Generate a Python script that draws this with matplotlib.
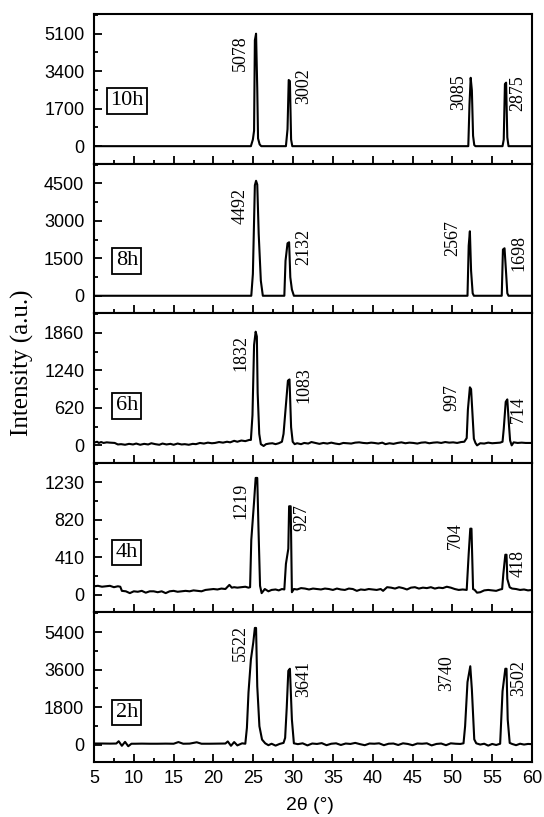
import matplotlib
matplotlib.use("Agg")
import matplotlib.pyplot as plt
from matplotlib.ticker import MultipleLocator

# ---------------- data ----------------
labels = ["10h", "8h", "6h", "4h", "2h"]
top_ticks = [5100, 4500, 1860, 1230, 5400]

# 10h
x_10h = [5, 24.7, 24.95, 25.1, 25.2, 25.35, 25.5, 25.6, 25.8, 26.0,
         29.1, 29.3, 29.45, 29.6, 29.75, 29.9,
         52.0, 52.15, 52.3, 52.45, 52.6, 52.75, 52.9,
         56.3, 56.45, 56.6, 56.75, 56.9, 57.05, 60]
y_10h = [0, 0, 300, 700, 4800, 5100, 2600, 350, 80, 0,
         0, 770, 3000, 2950, 300, 0,
         0, 1880, 3100, 2530, 470, 50, 0,
         0, 300, 2820, 2880, 400, 0, 0]

# 8h
x_8h = [5, 24.75, 24.95, 25.2, 25.35, 25.5, 25.68, 25.95, 26.2,
        28.9, 29.05, 29.3, 29.5, 29.65, 29.85, 30.1,
        51.9, 52.05, 52.2, 52.35, 52.55, 52.7,
        56.2, 56.35, 56.55, 56.75, 56.9, 57.05, 60]
y_8h = [0, 0, 870, 4420, 4600, 4450, 2480, 600, 0,
        0, 1400, 2100, 2140, 740, 250, 0,
        0, 2000, 2580, 1000, 100, 0,
        0, 1850, 1900, 900, 100, 0, 0]

# 6h
x_6h = [5.0, 5.4, 5.6, 5.9, 6.2, 6.6, 7.0, 7.6, 8.0, 8.4, 8.9, 9.4, 9.9, 10.3,
        10.8, 11.3, 11.8, 12.2, 12.7, 13.2, 13.6, 14.1, 14.6, 15.0, 15.5, 16.0,
        16.4, 16.9, 17.4, 17.8, 18.3, 18.8, 19.3, 19.8, 20.2, 20.7, 21.2, 21.7,
        22.1, 22.6, 23.0, 23.5, 24.0, 24.5,
        24.7, 24.9, 25.1, 25.3, 25.45, 25.55, 25.75, 25.95,
        26.3, 26.6, 27.0, 27.4, 27.8, 28.2, 28.6,
        28.8, 29.1, 29.35, 29.55, 29.75, 29.95, 30.2,
        30.5, 31.0, 31.4, 31.9, 32.3, 32.8, 33.3, 33.8, 34.3, 34.8, 35.3, 35.8,
        36.3, 36.8, 37.3, 37.8, 38.3, 38.8, 39.3, 39.8, 40.2, 40.7, 41.2, 41.6,
        42.1, 42.6, 43.1, 43.6, 44.1, 44.6, 45.1, 45.6, 46.1, 46.6, 47.1, 47.6,
        48.1, 48.6, 49.1, 49.6, 50.1, 50.6, 51.1, 51.5,
        51.8, 51.95, 52.2, 52.35, 52.5, 52.7, 52.9, 53.1,
        53.5, 54.0, 54.5, 55.0, 55.5, 56.0, 56.3,
        56.45, 56.7, 56.9, 57.1, 57.25, 57.45, 57.7, 58.2, 58.7, 59.2, 60]
y_6h = [45, 60, 40, 55, 40, 50, 45, 40, 15, 20, 10, 25, 15, 30,
        10, 25, 15, 35, 20, 10, 30, 15, 25, 10, 30, 15,
        20, 10, 25, 20, 40, 30, 45, 35, 40, 55, 45, 60,
        50, 75, 60, 80, 70, 90,
        90, 500, 1660, 1880, 1800, 870, 190, 20,
        -10, 20, 30, 35, 20, 35, 60,
        190, 660, 1070, 1090, 300, 60, 20,
        35, 20, 40, 30, 55, 40, 25, 40, 30, 45, 30, 20,
        40, 35, 30, 45, 50, 40, 35, 45, 40, 30, 45, 20,
        35, 25, 40, 50, 35, 45, 40, 30, 45, 50, 35, 45,
        50, 40, 55, 45, 50, 40, 55, 60,
        120, 590, 960, 930, 590, 110, 40, 0,
        35, 30, 45, 35, 40, 45, 60,
        270, 720, 760, 350, 80, 0, 50, 40, 45, 40, 40]

# 4h
x_4h = [5.0, 5.5, 6.0, 6.5, 7.0, 7.5, 8.0, 8.3, 8.5, 9.0, 9.5, 10.0, 10.5,
        11.0, 11.5, 12.0, 12.5, 13.0, 13.5, 14.0, 14.5, 15.0, 15.5, 16.0, 16.5,
        17.0, 17.5, 18.0, 18.5, 19.0, 19.5, 20.0, 20.5, 21.0, 21.5, 22.0, 22.3,
        22.6, 23.0, 23.5, 24.0, 24.4,
        24.6, 24.75, 25.1, 25.3, 25.5, 25.65, 25.85, 26.05, 26.45,
        26.9, 27.3, 27.8, 28.2, 28.6, 28.9,
        29.1, 29.4, 29.5, 29.7, 29.85, 30.1,
        30.5, 31.0, 31.5, 32.0, 32.5, 33.0, 33.5, 34.0, 34.5, 35.0, 35.5, 36.0,
        36.5, 37.0, 37.5, 38.0, 38.5, 39.0, 39.5, 40.0, 40.5, 41.0, 41.3, 41.8,
        42.3, 42.8, 43.3, 43.8, 44.3, 44.8, 45.3, 45.8, 46.3, 46.8, 47.3, 47.8,
        48.3, 48.8, 49.3, 49.8, 50.3, 50.8, 51.3, 51.8,
        52.05, 52.25, 52.4, 52.6, 52.8,
        53.1, 53.5, 54.0, 54.5, 55.0, 55.5, 56.0, 56.25,
        56.4, 56.65, 56.8, 56.9, 57.2, 57.5, 58.0, 58.5, 59.0, 59.5, 60]
y_4h = [95, 100, 90, 95, 100, 85, 95, 90, 45, 40, 20, 40, 35,
        45, 25, 40, 40, 30, 40, 20, 40, 45, 35, 40, 45,
        40, 50, 45, 40, 55, 60, 65, 60, 70, 65, 110, 80,
        85, 80, 85, 90, 80,
        85, 600, 1020, 1280, 1280, 740, 100, 20, 65,
        40, 55, 60, 50, 65, 60,
        340, 505, 970, 970, 30, 65,
        60, 75, 70, 60, 70, 65, 60, 70, 65, 55, 70, 60,
        55, 70, 65, 45, 60, 55, 65, 60, 55, 65, 45, 85,
        80, 70, 85, 75, 60, 80, 85, 70, 80, 75, 85, 70,
        80, 75, 90, 80, 65, 55, 60, 55,
        450, 725, 725, 65, 55,
        25, 30, 50, 55, 50, 45, 60, 65,
        230, 440, 440, 175, 84, 70, 65, 55, 60, 50, 55]

# 2h
x_2h = [5.0, 6.0, 7.0, 7.8, 8.1, 8.5, 8.9, 9.3, 9.7, 10.2, 11.0, 12.0, 13.0,
        14.0, 15.0, 15.6, 16.2, 17.0, 17.9, 18.5, 19.5, 20.5, 21.5, 21.8, 22.2,
        22.6, 23.0, 23.6, 24.0,
        24.2, 24.4, 24.7, 25.0, 25.2, 25.35, 25.5, 25.77, 26.1, 26.5,
        26.9, 27.3, 27.8, 28.3, 28.8,
        29.0, 29.2, 29.4, 29.6, 29.85, 30.1,
        30.6, 31.2, 31.8, 32.4, 33.0, 33.6, 34.2, 34.8, 35.4, 36.0, 36.6, 37.2,
        37.8, 38.4, 39.0, 39.6, 40.2, 40.8, 41.4, 42.0, 42.6, 43.2, 43.8, 44.4,
        45.0, 45.6, 46.2, 46.8, 47.4, 48.0, 48.6, 49.2, 49.8, 50.4, 51.0, 51.4,
        51.6, 51.9, 52.25, 52.45, 52.75, 53.0,
        53.5, 54.0, 54.5, 55.0, 55.5, 56.0,
        56.3, 56.65, 56.8, 56.95, 57.2, 57.5, 58.0, 58.5, 59.0, 59.5, 60]
y_2h = [50, 50, 45, 50, 160, -60, 130, -80, 40, 40, 45, 40, 40,
        45, 40, 120, 40, 45, 110, 40, 40, 45, 50, 150, -60,
        120, -40, 60, 40,
        800, 2500, 4080, 4900, 5600, 5600, 2800, 880, 240, 60,
        -30, 40, -50, 30, 80,
        320, 1760, 3540, 3640, 1200, 60,
        20, 60, -40, 50, 30, 70, -30, 40, 60, -20, 50, 30,
        80, 20, -30, 50, 40, 60, -30, 40, 50, -20, 60, 30,
        -30, 50, 40, 60, -40, 30, 50, -30, 60, 40, 30, 60,
        880, 3000, 3760, 2640, 250, 60,
        0, 40, -50, 30, -20, 40,
        2560, 3640, 3640, 1200, 80, 30, -30, 40, 0, 30, 20]

xs = [x_10h, x_8h, x_6h, x_4h, x_2h]
ys = [y_10h, y_8h, y_6h, y_4h, y_2h]

# peak labels: text, x, y for every panel
peak_text = [["5078", "3002", "3085", "2875"],
             ["4492", "2132", "2567", "1698"],
             ["1832", "1083", "997", "714"],
             ["1219", "927", "704", "418"],
             ["5522", "3641", "3740", "3502"]]
peak_x = [[23.4, 31.3, 50.8, 58.2],
          [23.4, 31.3, 50.1, 58.3],
          [23.4, 31.3, 50.0, 58.3],
          [23.4, 31.1, 50.4, 58.3],
          [23.4, 31.3, 49.3, 58.3]]
peak_y = [[4235, 2730, 2440, 2410],
          [3580, 1970, 2290, 1730],
          [1525, 990, 787, 586],
          [1032, 846, 648, 340],
          [4870, 3134, 3423, 3182]]
box_y = [0.42, 0.35, 0.38, 0.40, 0.33]

serif = "Liberation Serif"
sans = "Liberation Sans"

fig = plt.figure(figsize=(5.44, 8.17), dpi=100)
axes = fig.subplots(5, 1, sharex=True)
fig.subplots_adjust(left=94/544., right=532/544., top=1-14/817., bottom=1-762/817., hspace=0)

for i, ax in enumerate(axes):
    T = top_ticks[i]
    ax.plot(xs[i], ys[i], '-', color='black', linewidth=1.5)
    ax.set_xlim(5, 60)
    ax.set_ylim(-0.155*T, 1.175*T)
    ax.set_yticks([0, T/3., 2*T/3., T])
    ax.set_yticklabels([str(int(round(v))) for v in [0, T/3., 2*T/3., T]])
    ax.yaxis.set_minor_locator(MultipleLocator(T/6.))
    ax.xaxis.set_major_locator(MultipleLocator(5))
    ax.xaxis.set_minor_locator(MultipleLocator(2.5))
    ax.tick_params(which='both', direction='in', top=False, right=False, width=1.3)
    ax.tick_params(which='major', length=6, pad=7, labelsize=13)
    ax.tick_params(which='minor', length=3)
    for lab in ax.get_xticklabels() + ax.get_yticklabels():
        lab.set_family(sans)
    for sp in ax.spines.values():
        sp.set_linewidth(1.5)

    for t, px, py in zip(peak_text[i], peak_x[i], peak_y[i]):
        ax.text(px, py, t, rotation=90, ha='center', va='center',
                fontsize=13, family=serif)

    ax.text(0.075, box_y[i], labels[i], transform=ax.transAxes, ha='center', va='center',
            fontsize=16, family=serif,
            bbox=dict(boxstyle='square,pad=0.15', facecolor='white', edgecolor='black', linewidth=1.3))

axes[-1].tick_params(axis='x', pad=6)

fig.text(22/544., 1-363/817., "Intensity (a.u.)", rotation=90, ha='center', va='center',
         fontsize=18, family=serif)
fig.text(310/544., 1-805/817., "2θ (°)", ha='center', va='center', fontsize=14, family=sans)

fig.savefig("out.png", dpi=100)
